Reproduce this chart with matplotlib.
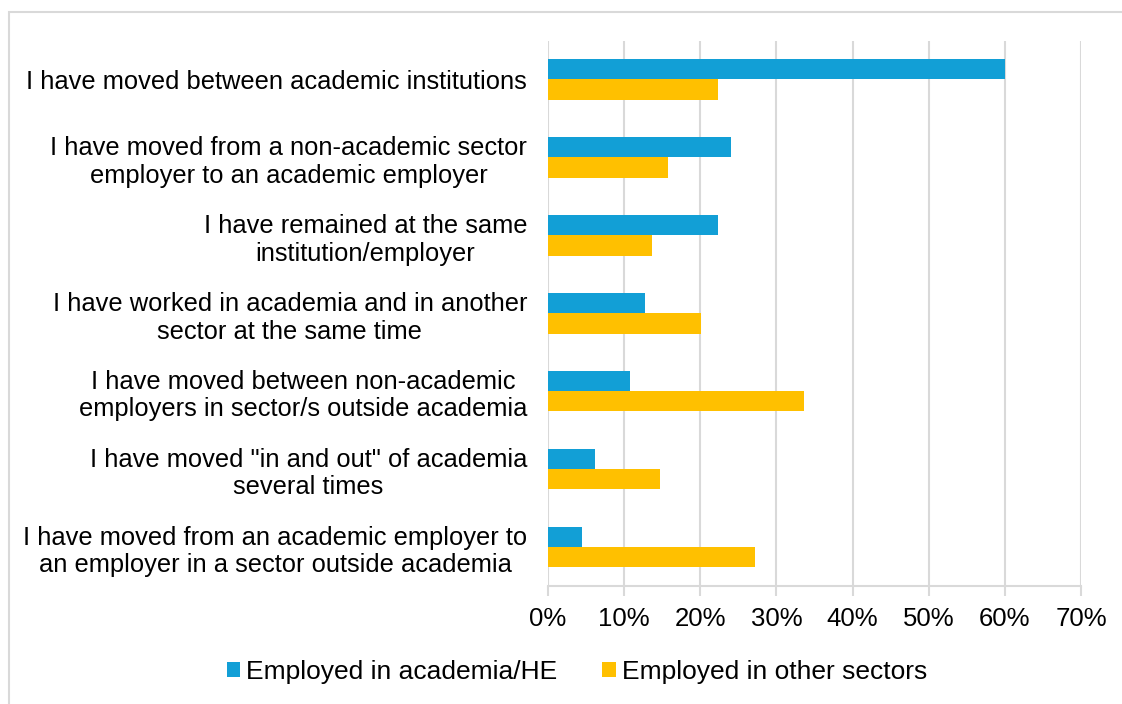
import matplotlib.pyplot as plt
import numpy as np
from matplotlib.patches import Rectangle

plt.rcParams['font.family'] = ['Liberation Sans', 'DejaVu Sans']

categories = [
    "I have moved between academic institutions",
    "I have moved from a non-academic sector\nemployer to an academic employer",
    "I have remained at the same\ninstitution/employer",
    "I have worked in academia and in another\nsector at the same time",
    "I have moved between non-academic\nemployers in sector/s outside academia",
    "I have moved \"in and out\" of academia\nseveral times",
    "I have moved from an academic employer to\nan employer in a sector outside academia",
]
academia = [60.0, 24.0, 22.3, 12.8, 10.8, 6.2, 4.5]
other = [22.3, 15.7, 13.6, 20.1, 33.6, 14.7, 27.2]
series_names = ["Employed in academia/HE", "Employed in other sectors"]
ticks = [0, 10, 20, 30, 40, 50, 60, 70]

blue = "#129fd6"
gold = "#ffc000"
grey = "#d9d9d9"

fig = plt.figure(figsize=(11.22, 7.04), dpi=100)
ax = fig.add_axes([548 / 1122, 1 - 586 / 704, (1081 - 548) / 1122, (586 - 40.5) / 704])

y = np.arange(len(categories))
h = 0.26
ax.barh(y - h / 2, academia, height=h, color=blue, label=series_names[0], zorder=3)
ax.barh(y + h / 2, other, height=h, color=gold, label=series_names[1], zorder=3)

ax.set_ylim(len(categories) - 0.5, -0.5)
ax.set_xlim(0, 70)
ax.set_xticks(ticks)
ax.set_xticklabels([f"{t}%" for t in ticks], fontsize=18.5)
ax.set_yticks(y)
ax.set_yticklabels(categories, fontsize=18.4, multialignment='center')

ax.grid(axis='x', color=grey, linewidth=1.5, zorder=0)
for s in ['top', 'right', 'left']:
    ax.spines[s].set_visible(False)
ax.spines['bottom'].set_color(grey)
ax.spines['bottom'].set_linewidth(1.5)
ax.tick_params(axis='y', length=0, pad=15)
ax.tick_params(axis='x', length=7, width=1.5, color=grey, pad=8)

fig.legend(loc='center', bbox_to_anchor=(577 / 1122, 1 - 672 / 704), ncol=2,
           frameon=False, fontsize=19, handlelength=0.5, handleheight=0.5,
           handletextpad=0.25, columnspacing=1.7)

# light outer frame around the chart
fig.patches.append(Rectangle((8.5 / 1122, -0.1), 1.2, 1 - 12 / 704 + 0.1,
                             transform=fig.transFigure, fill=False,
                             edgecolor=grey, linewidth=1.5, zorder=0))

fig.savefig("out.png", dpi=100, facecolor='white')
